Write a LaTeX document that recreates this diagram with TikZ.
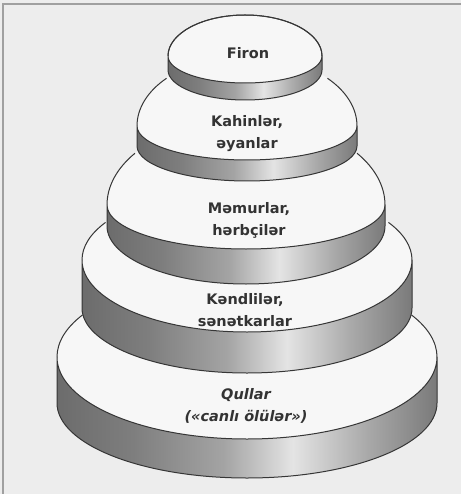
\documentclass[tikz,border=0pt]{standalone}
\usepackage{fontspec}
\setmainfont{DejaVu Sans}
\definecolor{bgcol}{HTML}{EDEDED}
\definecolor{facecol}{HTML}{F7F7F7}
\definecolor{linecol}{HTML}{363636}
\definecolor{framecol}{HTML}{A0A0A0}
\definecolor{txtcol}{HTML}{333333}
\definecolor{bdark}{HTML}{6C6C6C}
\definecolor{bdarktwo}{HTML}{7E7E7E}
\definecolor{bmid}{HTML}{A4A4A4}
\definecolor{blight}{HTML}{E4E4E4}
\definecolor{bmidtwo}{HTML}{A8A8A8}
\definecolor{bdarkthree}{HTML}{7A7A7A}
\pgfdeclarehorizontalshading{bandshade}{100bp}{color(0bp)=(bdark); color(25bp)=(bdark); color(35bp)=(bdarktwo); color(47bp)=(bmid); color(56bp)=(blight); color(66bp)=(bmidtwo); color(75bp)=(bdarkthree); color(100bp)=(bdarkthree)}
\tikzset{
  outl/.style={draw=linecol, line width=1pt},
  lbl/.style={text=txtcol, font=\fontsize{14.5}{22}\selectfont\bfseries, align=center, inner sep=0pt},
}
% cx rx ys rb rf ts rbot tend
\newcommand\drawdisc[8]{%
  \fill[facecol] (#1-#2,-#3) arc[start angle=180,end angle=0,x radius=#2pt,y radius=#4pt]
     arc[start angle=0,end angle=-180,x radius=#2pt,y radius=#5pt] -- cycle;
  \shadedraw[outl, shading=bandshade] (#1-#2,-#3) arc[start angle=180,end angle=360,x radius=#2pt,y radius=#5pt]
     -- ++(0,-#6) arc[start angle=0,end angle=-180,x radius=#2pt,y radius=#7pt] -- cycle;
  \draw[outl] (#1-#2,-#3) arc[start angle=180,end angle=#8,x radius=#2pt,y radius=#4pt];
  \draw[outl] (#1+#2,-#3) arc[start angle=0,end angle={180-#8},x radius=#2pt,y radius=#4pt];
}
\begin{document}
\begin{tikzpicture}[x=1pt,y=1pt]
\useasboundingbox (0,0) rectangle (461,-494);
\fill[bgcol] (0,0) rectangle (461,-494);
\draw[framecol, line width=1.5pt] (3,-494) -- (3,-4) -- (461,-4);
% discs from bottom to top
\drawdisc{247}{190}{357}{84}{82}{46}{75}{150}
\drawdisc{247}{165}{260}{73}{72}{48}{65}{149}
\drawdisc{246}{139}{205}{86}{44}{21}{58}{143}
\drawdisc{247}{110}{126}{70}{34}{20}{35}{137}
\drawdisc{245}{77}{56}{41}{27}{14}{30}{0}
% labels
\node[lbl] (firon) at (248,-53) {Firon};
\node[lbl] (kahin) at (247,-134) {Kahinlər,\\əyanlar};
\node[lbl] (memur) at (249,-220) {Məmurlar,\\hərbçilər};
\node[lbl] (kend) at (245,-310) {Kəndlilər,\\sənətkarlar};
\node[lbl, font=\fontsize{14.5}{22}\selectfont\bfseries\itshape] (qul) at (246,-406) {Qullar\\(«canlı ölülər»)};
\end{tikzpicture}
\end{document}
